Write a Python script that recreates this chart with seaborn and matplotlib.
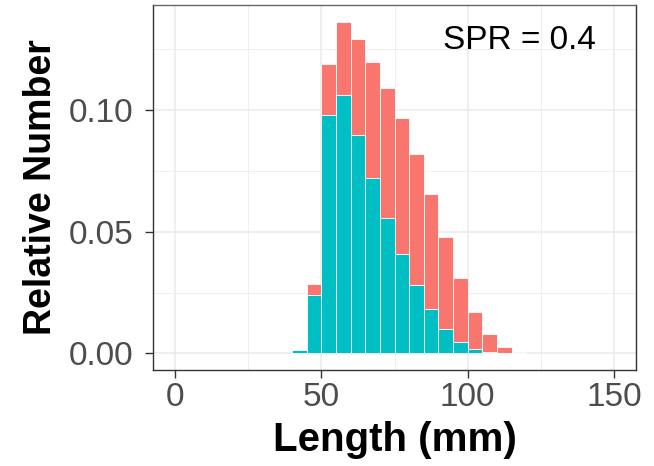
import numpy as np
import pandas as pd
import matplotlib
matplotlib.use("Agg")
import matplotlib.pyplot as plt
import seaborn as sns
from matplotlib.ticker import FixedLocator

# ---- data ----
length_mid = [42.5, 47.5, 52.5, 57.5, 62.5, 67.5, 72.5, 77.5, 82.5, 87.5,
              92.5, 97.5, 102.5, 107.5, 112.5, 117.5]
unfished = [0.0015, 0.0284, 0.1190, 0.1363, 0.1290, 0.1195, 0.1089, 0.0967,
            0.0821, 0.0656, 0.0480, 0.0310, 0.0172, 0.0078, 0.0025, 0.0004]
fished = [0.0015, 0.0240, 0.0980, 0.1063, 0.0899, 0.0719, 0.0555, 0.0407,
          0.0281, 0.0182, 0.0101, 0.0049, 0.0020, 0.0007, 0.0, 0.0]
bin_edges = list(range(40, 125, 5))
x_ticks = [0, 50, 100, 150]
y_ticks = [0.00, 0.05, 0.10]
y_ticklabels = ["0.00", "0.05", "0.10"]
annotation = "SPR = 0.4"

df = pd.DataFrame({"length": length_mid, "unfished": unfished, "fished": fished})

sns.set_theme(style="white")
plt.rcParams["font.family"] = ["Liberation Sans", "DejaVu Sans"]

fig = plt.figure(figsize=(6.54, 4.66), dpi=100)
ax = fig.add_axes([153 / 654, 1 - 370 / 466, (636 - 153) / 654, (370 - 5) / 466])
ax.set_facecolor("white")

sns.histplot(data=df, x="length", weights="unfished", bins=bin_edges, ax=ax,
             color="#F8766D", alpha=1, edgecolor="white", linewidth=0.6, zorder=2)
sns.histplot(data=df, x="length", weights="fished", bins=bin_edges, ax=ax,
             color="#00BFC4", alpha=1, edgecolor="white", linewidth=0.6, zorder=3)

ax.set_xlim(-7.5, 157.5)
ax.set_ylim(-0.0068, 0.1431)

ax.xaxis.set_major_locator(FixedLocator(x_ticks))
ax.xaxis.set_minor_locator(FixedLocator([25, 75, 125]))
ax.yaxis.set_major_locator(FixedLocator(y_ticks))
ax.yaxis.set_minor_locator(FixedLocator([0.025, 0.075, 0.125]))
ax.set_yticklabels(y_ticklabels)

ax.grid(which="major", color="#EBEBEB", linewidth=1.1, zorder=0)
ax.grid(which="minor", color="#EBEBEB", linewidth=0.55, zorder=0)
ax.set_axisbelow(True)

for name, s in ax.spines.items():
    s.set_visible(True)
    s.set_color("#333333")
    s.set_linewidth(1.0)
ax.spines["top"].set_color("#666666")

ax.tick_params(axis="both", which="major", direction="out", length=6, width=1.0,
               color="#333333", labelsize=24, labelcolor="#4D4D4D")
ax.tick_params(axis="x", which="major", pad=3)
ax.tick_params(axis="y", which="major", pad=8)
ax.tick_params(which="minor", length=0)
ax.tick_params(bottom=True, left=True)

ax.set_xlabel("Length (mm)", fontsize=29, fontweight="bold", color="black")
ax.set_ylabel("Relative Number", fontsize=27, fontweight="bold", color="black",
              va="center")
ax.xaxis.set_label_coords(0.5, -0.14)
ax.yaxis.set_label_coords(-0.232, 0.5)

ax.text(117.8, 0.1284, annotation, fontsize=24, color="black", ha="center", va="center")

fig.savefig("out.png", dpi=100, facecolor="white")
